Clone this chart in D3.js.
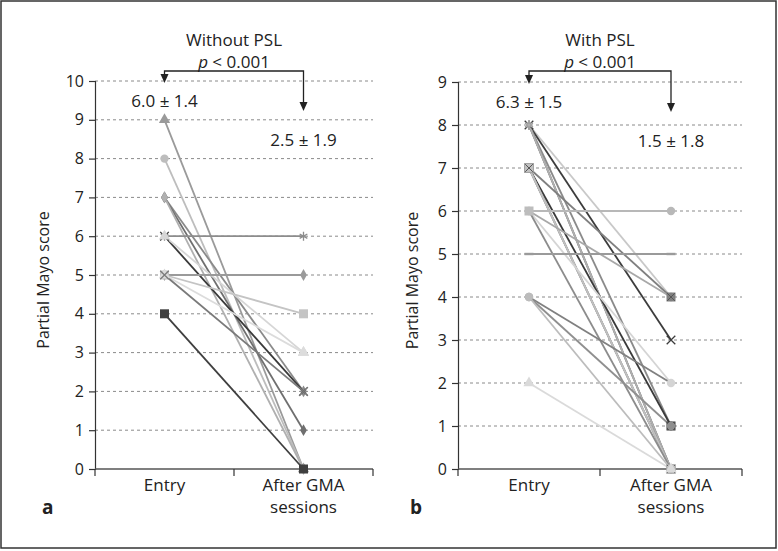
<!DOCTYPE html>
<html>
<head>
<meta charset="utf-8">
<script src="https://cdn.jsdelivr.net/npm/d3@7"></script>
<style>
  html, body { margin: 0; padding: 0; background: #fff; }
  svg { display: block; font-family: "Open Sans", "Noto Sans", sans-serif; }
</style>
</head>
<body>
<svg id="chart" width="778" height="551"></svg>
<script>
// ---------- DATA ----------
const categories = ["Entry", "After GMA sessions"];

// Panel a: without PSL
const aEntry = [9, 8, 7, 7, 7, 6, 6, 6, 5, 5, 5, 5, 4];
const aAfter = [0, 0, 2, 1, 0, 6, 2, 3, 5, 4, 3, 2, 0];
const aTicks = [0, 1, 2, 3, 4, 5, 6, 7, 8, 9, 10];
const aTitle = "Without PSL";
const aEntryLabel = "6.0 ± 1.4";
const aAfterLabel = "2.5 ± 1.9";

// Panel b: with PSL
const bEntry = [8, 8, 8, 8, 8, 8, 7, 7, 7, 7, 7, 6, 6, 6, 6, 5, 4, 4, 4, 2];
const bAfter = [4, 3, 1, 0, 0, 0, 4, 1, 0, 0, 0, 6, 4, 2, 0, 5, 2, 1, 0, 0];
const bTicks = [0, 1, 2, 3, 4, 5, 6, 7, 8, 9];
const bTitle = "With PSL";
const bEntryLabel = "6.3 ± 1.5";
const bAfterLabel = "1.5 ± 1.8";

const pText = "< 0.001";
const yLabel = "Partial Mayo score";

// ---------- STYLES (separate from data) ----------
const aStyles = [
  {c: "#9a9a9a", m: "triangle"},
  {c: "#bdbdbd", m: "circle"},
  {c: "#8a8a8a", m: "diamond"},
  {c: "#6f6f6f", m: "diamond"},
  {c: "#b0b0b0", m: "diamond"},
  {c: "#8c8c8c", m: "asterisk"},
  {c: "#3a3a3a", m: "times"},
  {c: "#d6d6d6", m: "triangle"},
  {c: "#9a9a9a", m: "diamond"},
  {c: "#c4c4c4", m: "square"},
  {c: "#dcdcdc", m: "triangle"},
  {c: "#7a7a7a", m: "times"},
  {c: "#3f3f3f", m: "square"}
];
const bStyles = [
  {c: "#c8c8c8", m: "asterisk"},
  {c: "#3c3c3c", m: "times"},
  {c: "#8a8a8a", m: "asterisk"},
  {c: "#9a9a9a", m: "asterisk"},
  {c: "#7a7a7a", m: "asterisk"},
  {c: "#b0b0b0", m: "asterisk"},
  {c: "#7f7f7f", m: "sqx"},
  {c: "#3a3a3a", m: "sqx"},
  {c: "#6a6a6a", m: "sqx"},
  {c: "#9a9a9a", m: "sqx"},
  {c: "#c0c0c0", m: "sqx"},
  {c: "#b8b8b8", m: "circle"},
  {c: "#a8a8a8", m: "none"},
  {c: "#d4d4d4", m: "circle"},
  {c: "#8c8c8c", m: "none"},
  {c: "#9a9a9a", m: "dash"},
  {c: "#808080", m: "none"},
  {c: "#8f8f8f", m: "circle"},
  {c: "#bcbcbc", m: "circle"},
  {c: "#dadada", m: "triangle"}
];
// extra entry markers for panel b where the entry marker differs
const bEntryMarkers = {11: {c: "#bdbdbd", m: "square"}};

const svg = d3.select("#chart");

// outer frame
svg.append("rect").attr("x", 1).attr("y", 1).attr("width", 775).attr("height", 547)
  .attr("fill", "none").attr("stroke", "#333").attr("stroke-width", 1.5);

function marker(g, type, x, y, color) {
  if (type === "none") return;
  const s = g.append("g").attr("transform", `translate(${x},${y})`);
  if (type === "circle") s.append("circle").attr("r", 4.2).attr("fill", color);
  else if (type === "square") s.append("rect").attr("x", -4.5).attr("y", -4.5).attr("width", 9).attr("height", 9).attr("fill", color);
  else if (type === "triangle") s.append("path").attr("d", d3.symbol(d3.symbolTriangle, 55)()).attr("fill", color);
  else if (type === "diamond") s.append("path").attr("d", d3.symbol(d3.symbolDiamond, 40)()).attr("fill", color);
  else if (type === "times") s.append("path").attr("d", d3.symbol(d3.symbolTimes, 50)()).attr("fill", "none").attr("stroke", color).attr("stroke-width", 1.3);
  else if (type === "asterisk") s.append("path").attr("d", d3.symbol(d3.symbolAsterisk, 55)()).attr("fill", "none").attr("stroke", color).attr("stroke-width", 1.3);
  else if (type === "sqx") {
    s.append("rect").attr("x", -4.5).attr("y", -4.5).attr("width", 9).attr("height", 9).attr("fill", color);
    s.append("path").attr("d", d3.symbol(d3.symbolTimes, 40)()).attr("fill", "none").attr("stroke", "#555").attr("stroke-width", 1);
  }
  else if (type === "dash") s.append("rect").attr("x", -4.5).attr("y", -1.2).attr("width", 9).attr("height", 2.4).attr("fill", color);
}

function panel(opt) {
  const {x0, x1, yTop, yBot, ticks, entry, after, styles, entryOverride, title, entryLabel, afterLabel, letter, letterX, yLabelX} = opt;
  const g = svg.append("g");
  const y = d3.scaleLinear().domain([0, d3.max(ticks)]).range([yBot, yTop]);
  const xb = d3.scaleBand().domain(categories).range([x0, x1]).padding(0);
  const xc = d => xb(d) + xb.bandwidth() / 2;

  // grid
  g.selectAll(".grid").data(ticks.filter(t => t > 0)).join("line")
    .attr("x1", x0).attr("x2", x1)
    .attr("y1", d => y(d)).attr("y2", d => y(d))
    .attr("stroke", "#8a8a8a").attr("stroke-width", 1).attr("stroke-dasharray", "3,3");

  // y axis
  const ya = g.append("g").attr("transform", `translate(${x0},0)`)
    .call(d3.axisLeft(y).tickValues(ticks).tickSize(6).tickPadding(5).tickFormat(d3.format("d")));
  ya.select(".domain").attr("stroke", "#333").attr("stroke-width", 1.2);
  ya.selectAll(".tick line").attr("stroke", "#333").attr("stroke-width", 1.2);
  ya.selectAll("text").attr("font-size", 16).attr("fill", "#222").attr("font-family", "Open Sans, Noto Sans, sans-serif");

  // x axis
  g.append("line").attr("x1", x0).attr("x2", x1).attr("y1", yBot).attr("y2", yBot)
    .attr("stroke", "#555").attr("stroke-width", 1.5);
  const tickXs = [x0, xb(categories[1]), x1];
  g.selectAll(".xt").data(tickXs).join("line")
    .attr("x1", d => d).attr("x2", d => d).attr("y1", yBot).attr("y2", yBot + 7)
    .attr("stroke", "#333").attr("stroke-width", 1.2);

  // x labels
  g.append("text").attr("x", xc(categories[0])).attr("y", yBot + 22).attr("text-anchor", "middle")
    .attr("font-size", 17).attr("fill", "#222").text(categories[0]);
  const words = categories[1].split(" ");
  g.append("text").attr("x", xc(categories[1])).attr("y", yBot + 22).attr("text-anchor", "middle")
    .attr("font-size", 17).attr("fill", "#222").text(words.slice(0, 2).join(" "));
  g.append("text").attr("x", xc(categories[1])).attr("y", yBot + 44).attr("text-anchor", "middle")
    .attr("font-size", 17).attr("fill", "#222").text(words.slice(2).join(" "));

  // letter
  g.append("text").attr("x", letterX).attr("y", yBot + 45).attr("font-size", 19).attr("font-weight", "bold")
    .attr("fill", "#222").text(letter);

  // y label
  g.append("text").attr("transform", `translate(${yLabelX},${(yTop + yBot) / 2 + 5}) rotate(-90)`)
    .attr("text-anchor", "middle").attr("font-size", 16).attr("fill", "#222").text(yLabel);

  // lines
  const ex = xc(categories[0]), ax = xc(categories[1]);
  entry.forEach((v, i) => {
    g.append("line").attr("x1", ex).attr("y1", y(v)).attr("x2", ax).attr("y2", y(after[i]))
      .attr("stroke", styles[i].c).attr("stroke-width", 1.8);
  });
  entry.forEach((v, i) => {
    marker(g, styles[i].m, ex, y(v), styles[i].c);
    marker(g, styles[i].m, ax, y(after[i]), styles[i].c);
  });
  Object.keys(entryOverride).forEach(k => {
    const s = entryOverride[k];
    marker(g, s.m, ex, y(entry[+k]), s.c);
  });

  // titles
  const mid = (ex + ax) / 2;
  g.append("text").attr("x", mid).attr("y", 46).attr("text-anchor", "middle").attr("font-size", 17).attr("fill", "#222").text(title);
  const pt = g.append("text").attr("x", mid).attr("y", 68).attr("text-anchor", "middle").attr("font-size", 17).attr("fill", "#222");
  pt.append("tspan").attr("font-style", "italic").text("p");
  pt.append("tspan").text(" " + pText);

  // bracket with arrows
  const by = 71;
  g.append("path").attr("d", `M${ex},${y(d3.max(ticks)) - 1} V${by} H${ax} V${y(d3.max(ticks)) + 26}`)
    .attr("fill", "none").attr("stroke", "#222").attr("stroke-width", 1.3);
  const arrow = (x, tip) => g.append("path").attr("d", `M${x - 4},${tip - 9} L${x + 4},${tip - 9} L${x},${tip} Z`).attr("fill", "#222");
  arrow(ex, y(d3.max(ticks)) + 2);
  arrow(ax, y(d3.max(ticks)) + 30);

  // mean labels
  g.append("text").attr("x", ex).attr("y", y(d3.max(ticks)) + 26).attr("text-anchor", "middle").attr("font-size", 17).attr("fill", "#222").text(entryLabel);
  g.append("text").attr("x", ax).attr("y", y(d3.max(ticks)) + 65).attr("text-anchor", "middle").attr("font-size", 17).attr("fill", "#222").text(afterLabel);
}

panel({x0: 95, x1: 373, yTop: 81, yBot: 469, ticks: aTicks, entry: aEntry, after: aAfter, styles: aStyles, entryOverride: {},
  title: aTitle, entryLabel: aEntryLabel, afterLabel: aAfterLabel, letter: "a", letterX: 42, yLabelX: 49});
panel({x0: 458, x1: 742, yTop: 82, yBot: 469, ticks: bTicks, entry: bEntry, after: bAfter, styles: bStyles, entryOverride: bEntryMarkers,
  title: bTitle, entryLabel: bEntryLabel, afterLabel: bAfterLabel, letter: "b", letterX: 410, yLabelX: 418});
</script>
</body>
</html>
